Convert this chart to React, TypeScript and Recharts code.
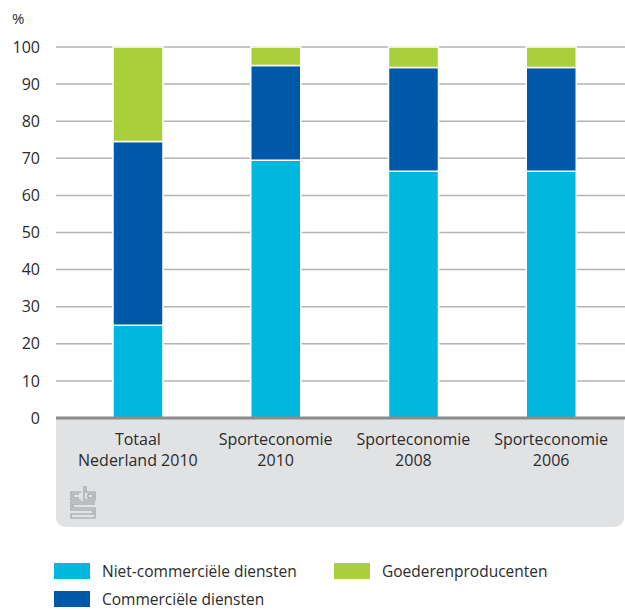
import { Bar, BarChart, CartesianGrid, XAxis, YAxis, useOffset, useChartWidth, useChartHeight } from "recharts";

const categories = [
  ["Totaal", "Nederland 2010"],
  ["Sporteconomie", "2010"],
  ["Sporteconomie", "2008"],
  ["Sporteconomie", "2006"],
];
const nietCommercieel = [25, 69.5, 66.5, 66.5];
const commercieel = [49.5, 25.5, 28, 28];
const goederen = [25.5, 5, 5.5, 5.5];
const yTicks = [0, 10, 20, 30, 40, 50, 60, 70, 80, 90, 100];

const series = [
  { key: "niet", name: "Niet-commerciële diensten", color: "#00b7dd" },
  { key: "comm", name: "Commerciële diensten", color: "#0059a8" },
  { key: "goed", name: "Goederenproducenten", color: "#a9cf3b" },
];

const data = categories.map((c, i) => ({
  name: c.join(" "),
  lines: c,
  niet: nietCommercieel[i],
  comm: commercieel[i],
  goed: goederen[i],
}));

const FONT = "'Open Sans', 'Liberation Sans', sans-serif";
const TEXT = "#2b2b2b";

// grey band under the x axis, the "%" unit and the cbs mark
function Panel() {
  const offset = useOffset();
  const width = useChartWidth();
  const height = useChartHeight();
  if (!offset || !width || !height) return null;
  const x0 = offset.left;
  const x1 = width - 1;
  const top = height - offset.bottom;
  const bottom = top + 109;
  const r = 11;
  const d = `M${x0},${top} H${x1} V${bottom - r} Q${x1},${bottom} ${x1 - r},${bottom} H${x0 + r} Q${x0},${bottom} ${x0},${bottom - r} Z`;
  const lx = x0 + 15;
  const ly = top + 68;
  return (
    <g>
      <path d={d} fill="#e1e2e4" />
      <text x={12} y={24} fontSize={15} fontFamily={FONT} fill={TEXT}>%</text>
      <g fill="none" stroke="#9a9a9a" strokeWidth={1.1}>
        <path d={`M${lx + 10},${ly + 6} H${lx} V${ly + 14} H${lx + 10}`} />
        <path d={`M${lx + 8},${ly + 8} H${lx + 2} V${ly + 12} H${lx + 8}`} />
        <path d={`M${lx + 13},${ly} V${ly + 14} H${lx + 24} V${ly + 6} H${lx + 15} V${ly}`} />
        <rect x={lx + 17} y={ly + 8} width={5} height={4} />
        <path d={`M${lx + 24},${ly + 16} H${lx} V${ly + 24} H${lx + 22} V${ly + 28} H${lx} V${ly + 32} H${lx + 24} V${ly + 22} H${lx + 2} V${ly + 18} H${lx + 24}`} />
      </g>
    </g>
  );
}

function XTick(props: any) {
  const { x, y, payload } = props;
  const lines: string[] = data[payload.index]?.lines ?? [payload.value];
  return (
    <g>
      {lines.map((l, i) => (
        <text key={i} x={x} y={y + 27 + i * 21} textAnchor="middle" fontSize={16} fontFamily={FONT} fill={TEXT}>
          {l}
        </text>
      ))}
    </g>
  );
}

export default function App() {
  return (
    <div style={{ position: "absolute", left: 0, top: 0, width: 625, height: 610, background: "#fff", fontFamily: FONT }}>
      <BarChart width={625} height={530} data={data} margin={{ top: 47, right: 0, bottom: 0, left: 0 }} barSize={50}>
        <Panel />
        <CartesianGrid vertical={false} stroke="#b3b3b3" strokeWidth={1.5} />
        <YAxis
          width={56}
          domain={[0, 100]}
          ticks={yTicks}
          axisLine={false}
          tickLine={false}
          tickSize={0}
          tickMargin={16}
          tick={{ fontSize: 16, fontFamily: FONT, fill: TEXT }}
        />
        <XAxis
          dataKey="name"
          height={112}
          padding={{ left: 13, right: 5 }}
          axisLine={{ stroke: "#8c8c8c", strokeWidth: 3 }}
          tickLine={false}
          tickSize={0}
          tickMargin={0}
          interval={0}
          tick={<XTick />}
        />
        {series.map((s) => (
          <Bar key={s.key} dataKey={s.key} name={s.name} stackId="a" fill={s.color} stroke="#ffffff" strokeWidth={1.5} isAnimationActive={false} />
        ))}
      </BarChart>
      <div style={{ position: "absolute", left: 54, top: 563, width: 560, display: "grid", gridTemplateColumns: "280px 260px", rowGap: 12 }}>
        {[series[0], series[2], series[1]].map((s) => (
          <div key={s.key} style={{ display: "flex", alignItems: "center", height: 16, lineHeight: "16px" }}>
            <span style={{ display: "inline-block", width: 36, height: 16, background: s.color, marginRight: 12 }} />
            <span style={{ fontSize: 15.5, color: TEXT, whiteSpace: "nowrap" }}>{s.name}</span>
          </div>
        ))}
      </div>
    </div>
  );
}
